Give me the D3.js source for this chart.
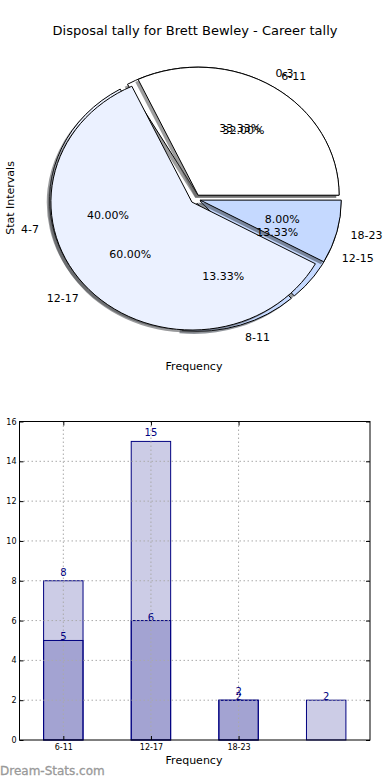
<!DOCTYPE html>
<html>
<head>
<meta charset="utf-8">
<script src="https://cdn.jsdelivr.net/npm/d3@7"></script>
<style>
body { margin: 0; background: #fff; }
text { font-family: "DejaVu Sans", sans-serif; }
</style>
</head>
<body>
<script>
// career tally (outer labels 6-11 ...) and stat intervals (0-3 ...)
var careerCats = ['6-11', '12-17', '18-23'];
var careerVals = [8, 15, 2];
var statCats = ['0-3', '4-7', '8-11', '12-15'];
var statVals = [5, 6, 2, 2];
var careerColors = ['#ffffff', '#ebf1ff', '#c5d9ff'];
var statColors = ['#ffffff', '#ebf1ff', '#c5d9ff', '#c5d9ff'];
var barCats = ['6-11', '12-17', '18-23'];
var yTicks = [0, 2, 4, 6, 8, 10, 12, 14, 16];

var svg = d3.select('body').append('svg').attr('width', 390).attr('height', 780);

/* ---------- pie part ---------- */
var cx = 195.5, cy = 199, rx = 141, ry = 128, expl = 0.035;
var pieGen = d3.pie().sort(null).startAngle(Math.PI / 2).endAngle(Math.PI / 2 - 2 * Math.PI);
var arcGen = d3.arc().innerRadius(0).outerRadius(1);
var pieG = svg.append('g');
var textG = svg.append('g');

svg.append('text').attr('x', 195).attr('y', 35).attr('text-anchor', 'middle')
	.style('font-size', '13px').text('Disposal tally for Brett Bewley - Career tally');

function drawPie(vals, cats, cols) {
	var total = d3.sum(vals);
	var arcs = pieGen(vals);
	arcs.forEach(function(a, i) {
		a.m = (a.startAngle + a.endAngle) / 2;
		a.ox = expl * rx * Math.sin(a.m);
		a.oy = -expl * ry * Math.cos(a.m);
		a.color = cols[i];
		a.cat = cats[i];
		a.pct = a.value / total * 100;
	});
	var g = pieG.append('g');
	// shadows first
	g.selectAll(null).data(arcs).join('path')
		.attr('transform', function(d) { return 'translate(' + (cx + d.ox - 0.02 * rx) + ',' + (cy + d.oy + 0.02 * ry) + ') scale(' + rx + ',' + ry + ')'; })
		.attr('d', arcGen)
		.attr('fill', function(d) { var c = d3.rgb(d.color); return d3.rgb(c.r * 0.3, c.g * 0.3, c.b * 0.3); })
		.attr('fill-opacity', 0.55);
	g.selectAll(null).data(arcs).join('path')
		.attr('transform', function(d) { return 'translate(' + (cx + d.ox) + ',' + (cy + d.oy) + ') scale(' + rx + ',' + ry + ')'; })
		.attr('d', arcGen)
		.attr('fill', function(d) { return d.color; })
		.attr('stroke', '#000').attr('stroke-width', 1)
		.attr('vector-effect', 'non-scaling-stroke');
	return arcs;
}

function drawPieText(arcs) {
	arcs.forEach(function(d) {
		var lx = cx + d.ox + 1.1 * rx * Math.sin(d.m);
		var ly = cy + d.oy - 1.1 * ry * Math.cos(d.m);
		textG.append('text').attr('x', lx).attr('y', ly)
			.attr('text-anchor', lx > cx ? 'start' : 'end').attr('dominant-baseline', 'central')
			.style('font-size', '11px').text(d.cat);
		var px = cx + d.ox + 0.6 * rx * Math.sin(d.m);
		var py = cy + d.oy - 0.6 * ry * Math.cos(d.m);
		textG.append('text').attr('x', px).attr('y', py)
			.attr('text-anchor', 'middle').attr('dominant-baseline', 'central')
			.style('font-size', '11px').text(d.pct.toFixed(2) + '%');
	});
}

var statArcs = drawPie(statVals, statCats, statColors);
var careerArcs = drawPie(careerVals, careerCats, careerColors);
drawPieText(statArcs);
drawPieText(careerArcs);

svg.append('text').attr('transform', 'translate(14,198) rotate(-90)').attr('text-anchor', 'middle')
	.style('font-size', '11px').text('Stat Intervals');
svg.append('text').attr('x', 194).attr('y', 370).attr('text-anchor', 'middle')
	.style('font-size', '11px').text('Frequency');

/* ---------- bar part ---------- */
var bLeft = 19.5, bRight = 370, bTop = 421.5, bBottom = 740;
var x = d3.scaleLinear().domain([-0.5, 3.5]).range([bLeft, bRight]);
var y = d3.scaleLinear().domain([0, 16]).range([bBottom, bTop]);
var bw = 0.45;
var barG = svg.append('g');

function drawBars(vals, cls) {
	barG.selectAll('rect.' + cls).data(vals).join('rect').attr('class', cls)
		.attr('x', function(d, i) { return x(i - bw / 2); })
		.attr('width', x(bw) - x(0))
		.attr('y', function(d) { return y(d); })
		.attr('height', function(d) { return y(0) - y(d); })
		.attr('fill', 'navy').attr('fill-opacity', 0.2)
		.attr('stroke', 'navy').attr('stroke-width', 1);
}
drawBars(careerVals, 'career');
drawBars(statVals, 'stat');

// grid on top
var gridG = svg.append('g');
gridG.selectAll(null).data(yTicks.slice(1, -1)).join('line')
	.attr('x1', bLeft).attr('x2', bRight).attr('y1', function(d) { return y(d); }).attr('y2', function(d) { return y(d); })
	.attr('stroke', '#aaa').attr('stroke-dasharray', '1.5,2.5');
gridG.selectAll(null).data(d3.range(barCats.length)).join('line')
	.attr('y1', bTop).attr('y2', bBottom).attr('x1', function(d) { return x(d); }).attr('x2', function(d) { return x(d); })
	.attr('stroke', '#aaa').attr('stroke-dasharray', '1.5,2.5');

// value labels
barG.selectAll('text.career').data(careerVals).join('text').attr('class', 'career')
	.attr('x', function(d, i) { return x(i); }).attr('y', function(d) { return y(d + 0.25); })
	.attr('text-anchor', 'middle').attr('fill', 'navy').style('font-size', '10px').text(function(d) { return d; });
barG.selectAll('text.stat').data(statVals).join('text').attr('class', 'stat')
	.attr('x', function(d, i) { return x(i); }).attr('y', function(d) { return y(d); })
	.attr('text-anchor', 'middle').attr('fill', 'navy').style('font-size', '10px').text(function(d) { return d; });

// axes with inward ticks
svg.append('g').attr('transform', 'translate(' + bLeft + ',0)')
	.call(d3.axisLeft(y).tickValues(yTicks).tickSizeInner(-4).tickSizeOuter(0).tickPadding(3));
svg.append('g').attr('transform', 'translate(' + bRight + ',0)')
	.call(d3.axisRight(y).tickValues(yTicks).tickSizeInner(-4).tickSizeOuter(0).tickFormat(''));
svg.append('g').attr('transform', 'translate(0,' + bBottom + ')')
	.call(d3.axisBottom(x).tickValues(d3.range(barCats.length)).tickSizeInner(-4).tickSizeOuter(0).tickPadding(4)
		.tickFormat(function(d) { return barCats[d]; }));
svg.append('g').attr('transform', 'translate(0,' + bTop + ')')
	.call(d3.axisTop(x).tickValues(d3.range(barCats.length)).tickSizeInner(-4).tickSizeOuter(0).tickFormat(''));
svg.selectAll('.domain').remove();
svg.selectAll('.tick text').style('font-family', '"DejaVu Sans", sans-serif').style('font-size', '8px').attr('fill', '#000');

svg.append('rect').attr('x', bLeft).attr('y', bTop).attr('width', bRight - bLeft).attr('height', bBottom - bTop)
	.attr('fill', 'none').attr('stroke', '#000').attr('stroke-width', 1);

svg.append('text').attr('x', 194).attr('y', 764).attr('text-anchor', 'middle')
	.style('font-size', '11px').text('Frequency');
svg.append('text').attr('transform', 'translate(-1,580) rotate(-90)').attr('text-anchor', 'middle')
	.style('font-size', '10px').text('Stat Intervals');

svg.append('text').attr('x', 0).attr('y', 775).attr('fill', '#999').style('font-size', '12px')
	.attr('stroke', '#999').attr('stroke-width', 0.3).text('Dream-Stats.com');
</script>
</body>
</html>
